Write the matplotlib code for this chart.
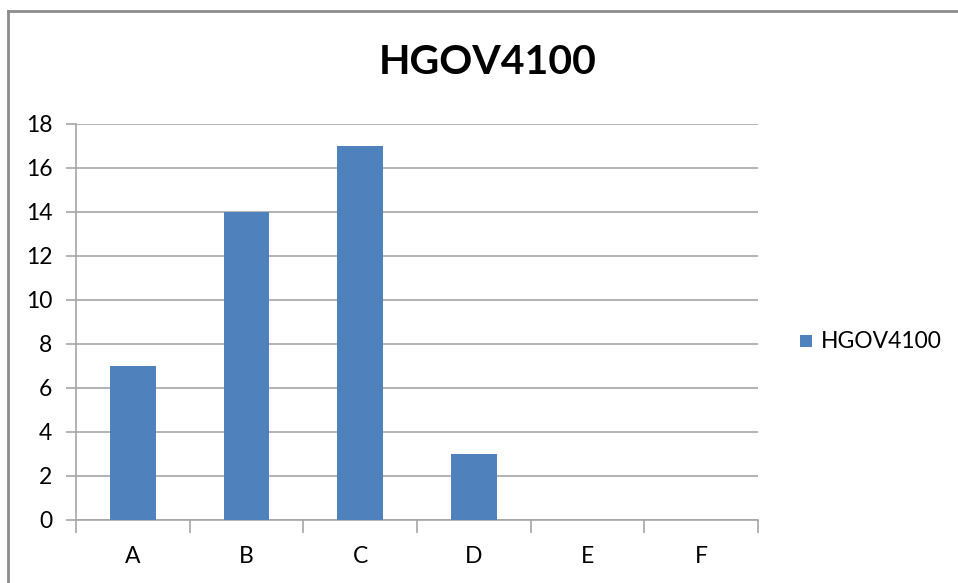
import matplotlib
matplotlib.use("Agg")
import matplotlib.pyplot as plt
from matplotlib.lines import Line2D
from matplotlib.patches import Rectangle

categories = ["A", "B", "C", "D", "E", "F"]
values = [7, 14, 17, 3, 0, 0]
series_name = "HGOV4100"
y_ticks = [0, 2, 4, 6, 8, 10, 12, 14, 16, 18]

plt.rcParams["font.family"] = ["Lato", "DejaVu Sans"]

W, H = 958, 583
fig = plt.figure(figsize=(W / 100, H / 100), dpi=100)
fig.patch.set_facecolor("white")

ax = fig.add_axes([76 / W, 63 / H, 682 / W, 396 / H])

bar_color = "#4F81BD"
grid_color = "#A6A6A6"
label_size = 16.5
x = list(range(len(categories)))
ax.bar(x, values, width=0.4, color=bar_color, zorder=3)

ax.set_xlim(-0.5, len(categories) - 0.5)
ax.set_ylim(0, 18)
ax.set_yticks(y_ticks)
ax.set_yticklabels([str(v) for v in y_ticks])
ax.yaxis.grid(True, color=grid_color, linewidth=1.2, zorder=0)
ax.set_axisbelow(True)

# category labels centred under each bar, ticks at category boundaries
ax.set_xticks(x)
ax.set_xticklabels(categories)
ax.tick_params(axis="x", which="major", length=0, pad=19, labelsize=label_size)
ax.set_xticks([i - 0.5 for i in range(len(categories) + 1)], minor=True)
ax.tick_params(axis="x", which="minor", length=9, width=1.2, color=grid_color)
ax.tick_params(axis="y", length=7, width=1.2, color=grid_color, pad=10,
               labelsize=label_size)

for side in ["top", "right"]:
    ax.spines[side].set_visible(False)
for side in ["left", "bottom"]:
    ax.spines[side].set_color(grid_color)
    ax.spines[side].set_linewidth(1.2)

fig.text(488 / W, 1 - 63 / H, series_name, ha="center", va="center",
         fontsize=29.5, fontweight="bold", color="black")

# legend entry
fig.patches.append(Rectangle((800 / W, 1 - 347 / H), 12 / W, 12 / H,
                             transform=fig.transFigure, facecolor=bar_color,
                             edgecolor="none"))
fig.text(821 / W, 1 - 341 / H, series_name, ha="left", va="center",
         fontsize=16.5, color="black")

# chart area border (top and left edges)
border = "#8C8C8C"
fig.add_artist(Line2D([7.5 / W, 1], [1 - 10.5 / H, 1 - 10.5 / H],
                      transform=fig.transFigure, color=border, linewidth=2))
fig.add_artist(Line2D([7.5 / W, 7.5 / W], [0, 1 - 10.5 / H],
                      transform=fig.transFigure, color=border, linewidth=2))

fig.savefig("out.png", dpi=100, facecolor="white")
